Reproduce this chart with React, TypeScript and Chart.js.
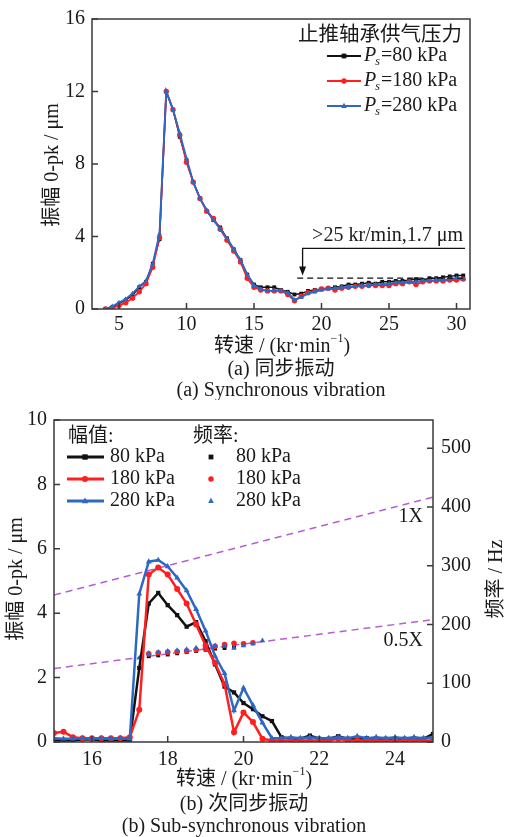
import React, { useEffect, useRef } from 'react';
import { Chart, registerables } from 'chart.js';

Chart.register(...registerables);

const FONT = "'Liberation Serif', 'Noto Sans CJK SC', serif";
const TXT = '#1a1a1a';
const AXIS = '#3a3a3a';
const BLACK = '#111111';
const RED = '#ff1f1f';
const BLUE = '#2c68c4';
const PURPLE = '#b65fd0';

// ---------- Panel (a): synchronous vibration ----------
const speedA = [4, 4.5, 5, 5.5, 6, 6.5, 7, 7.5, 8, 8.5, 9, 9.5, 10, 10.5, 11, 11.5, 12, 12.5, 13, 13.5, 14, 14.5, 15, 15.5, 16, 16.5, 17, 17.5, 18, 18.5, 19, 19.5, 20, 20.5, 21, 21.5, 22, 22.5, 23, 23.5, 24, 24.5, 25, 25.5, 26, 26.5, 27, 27.5, 28, 28.5, 29, 29.5, 30, 30.5];
const amp80A = [0, 0.1, 0.3, 0.5, 0.75, 1.2, 1.5, 2.5, 3.85, 12.0, 11.0, 9.5, 8.2, 7.0, 6.1, 5.4, 4.9, 4.5, 3.9, 3.3, 2.7, 1.9, 1.35, 1.2, 1.2, 1.2, 1.05, 0.95, 0.8, 0.85, 1.0, 1.05, 1.1, 1.15, 1.2, 1.25, 1.35, 1.35, 1.4, 1.45, 1.4, 1.5, 1.5, 1.55, 1.55, 1.6, 1.65, 1.6, 1.7, 1.7, 1.75, 1.8, 1.85, 1.85];
const amp180A = [0, 0.05, 0.2, 0.35, 0.6, 0.95, 1.4, 2.3, 3.95, 12.0, 11.0, 9.6, 8.1, 7.0, 6.1, 5.4, 5.0, 4.4, 3.8, 3.2, 2.6, 1.7, 1.2, 1.05, 1.0, 1.0, 1.0, 0.8, 0.45, 0.7, 0.9, 1.0, 1.1, 1.15, 1.05, 1.15, 1.2, 1.25, 1.25, 1.3, 1.3, 1.3, 1.3, 1.4, 1.4, 1.5, 1.35, 1.5, 1.55, 1.55, 1.55, 1.6, 1.6, 1.65];
const amp280A = [0, 0.15, 0.35, 0.55, 0.85, 1.25, 1.55, 2.5, 4.15, 12.0, 11.0, 9.7, 8.3, 7.0, 6.1, 5.45, 4.9, 4.4, 3.9, 3.3, 2.7, 1.9, 1.3, 1.1, 1.0, 1.0, 1.0, 0.9, 0.5, 0.65, 0.85, 0.95, 1.05, 1.1, 1.15, 1.2, 1.2, 1.25, 1.3, 1.3, 1.35, 1.35, 1.4, 1.45, 1.45, 1.5, 1.5, 1.55, 1.55, 1.6, 1.6, 1.65, 1.7, 1.65];
const xTicksA = [5, 10, 15, 20, 25, 30];
const yTicksA = [0, 4, 8, 12, 16];
const refLineX = [18.2, 30.6];
const refLineY = [1.7, 1.7];
const legendA = ['80 kPa', '180 kPa', '280 kPa'];

// ---------- Panel (b): sub-synchronous vibration ----------
const speedB = [15, 15.25, 15.5, 15.75, 16, 16.25, 16.5, 16.75, 17, 17.25, 17.5, 17.75, 18, 18.25, 18.5, 18.75, 19, 19.25, 19.5, 19.75, 20, 20.25, 20.5, 20.75, 21, 21.25, 21.5, 21.75, 22, 22.25, 22.5, 22.75, 23, 23.25, 23.5, 23.75, 24, 24.25, 24.5, 24.75, 25];
const amp80B = [0.05, 0.05, 0.05, 0.08, 0.08, 0.05, 0.05, 0.05, 0.05, 2.3, 4.3, 4.63, 4.25, 3.94, 3.58, 3.72, 3.13, 2.41, 1.72, 1.54, 1.21, 1.02, 0.8, 0.65, 0.15, 0.1, 0.1, 0.2, 0.1, 0.1, 0.18, 0.1, 0.1, 0.12, 0.1, 0.1, 0.1, 0.1, 0.12, 0.1, 0.25];
const amp180B = [0.28, 0.32, 0.15, 0.12, 0.12, 0.12, 0.12, 0.12, 0.15, 1.0, 5.2, 5.42, 5.2, 4.75, 4.3, 3.65, 3.0, 2.45, 1.8, 0.3, 0.92, 0.62, 0.1, 0.05, 0.05, 0.05, 0.05, 0.05, 0.05, 0.05, 0.1, 0.05, 0.05, 0.05, 0.05, 0.05, 0.05, 0.05, 0.05, 0.05, 0.05];
const amp280B = [0.12, 0.1, 0.1, 0.12, 0.1, 0.12, 0.1, 0.12, 0.1, 4.6, 5.6, 5.65, 5.45, 5.1, 4.7, 4.12, 3.45, 2.67, 2.13, 0.98, 1.68, 1.14, 0.6, 0.12, 0.12, 0.15, 0.12, 0.15, 0.12, 0.12, 0.15, 0.12, 0.18, 0.12, 0.15, 0.12, 0.15, 0.12, 0.15, 0.12, 0.15];
const freqX80 = [17.5, 17.75, 18, 18.25, 18.5, 18.75, 19, 19.25, 19.5, 19.75];
const freq80 = [146, 147.5, 149, 151, 153, 155, 157, 159, 160, 161];
const freqX180 = [17.5, 17.75, 18, 18.25, 18.5, 18.75, 19, 19.25, 19.5, 19.75, 20, 20.25];
const freq180 = [150, 152, 153, 154, 155, 157, 159, 163, 166, 168, 167, 169];
const freqX280 = [17.25, 17.5, 17.75, 18, 18.25, 18.5, 18.75, 19, 19.25, 19.5, 19.75, 20, 20.25, 20.5];
const freq280 = [143, 151, 153, 154.5, 156, 157.5, 160, 161.5, 164, 163, 160, 164, 167.5, 172.5];
const orderX = [15, 25];
const oneX = [250, 416.7];
const halfX = [125, 208.3];
const xTicksB = [16, 18, 20, 22, 24];
const yTicksB = [0, 2, 4, 6, 8, 10];
const y1TicksB = [0, 100, 200, 300, 400, 500];

const pts = (xs: number[], ys: number[]) => xs.map((x, i) => ({ x, y: ys[i] }));
const tickFont = { family: FONT, size: 20 };

function marker(ctx: CanvasRenderingContext2D, style: string, x: number, y: number, r: number, color: string) {
  ctx.save();
  ctx.fillStyle = color;
  ctx.beginPath();
  if (style === 'rect') ctx.rect(x - r * 0.75, y - r * 0.75, r * 1.5, r * 1.5);
  else if (style === 'circle') ctx.arc(x, y, r * 0.85, 0, Math.PI * 2);
  else {
    ctx.moveTo(x, y - r);
    ctx.lineTo(x + r * 0.9, y + r * 0.6);
    ctx.lineTo(x - r * 0.9, y + r * 0.6);
    ctx.closePath();
  }
  ctx.fill();
  ctx.restore();
}

function text(ctx: CanvasRenderingContext2D, s: string, x: number, y: number, align: CanvasTextAlign = 'left', size = 20, rot = 0, style = '') {
  ctx.save();
  ctx.font = `${style} ${size}px ${FONT}`;
  ctx.fillStyle = TXT;
  ctx.textAlign = align;
  ctx.textBaseline = 'middle';
  ctx.translate(x, y);
  if (rot) ctx.rotate(rot);
  ctx.fillText(s, 0, 0);
  ctx.restore();
}

function speedTitle(ctx: CanvasRenderingContext2D, cx: number, cy: number) {
  ctx.save();
  ctx.fillStyle = TXT;
  ctx.textBaseline = 'middle';
  ctx.textAlign = 'left';
  const a = '转速 / (kr·min';
  const sup = '−1';
  const b = ')';
  ctx.font = `20px ${FONT}`;
  const wa = ctx.measureText(a).width;
  const wb = ctx.measureText(b).width;
  ctx.font = `12px ${FONT}`;
  const ws = ctx.measureText(sup).width;
  let x = cx - (wa + ws + wb) / 2;
  ctx.font = `20px ${FONT}`;
  ctx.fillText(a, x, cy);
  x += wa;
  ctx.font = `12px ${FONT}`;
  ctx.fillText(sup, x, cy - 8);
  x += ws;
  ctx.font = `20px ${FONT}`;
  ctx.fillText(b, x, cy);
  ctx.restore();
}

function frameAndTicks(chart: any, axes: { id: string; side: string }[]) {
  const ctx = chart.ctx as CanvasRenderingContext2D;
  const ca = chart.chartArea;
  ctx.save();
  ctx.strokeStyle = AXIS;
  ctx.lineWidth = 1.5;
  ctx.strokeRect(ca.left, ca.top, ca.right - ca.left, ca.bottom - ca.top);
  const L = 6;
  ctx.beginPath();
  for (const ax of axes) {
    const sc = chart.scales[ax.id];
    for (const t of sc.ticks) {
      const p = sc.getPixelForValue(t.value);
      if (ax.side === 'bottom') { ctx.moveTo(p, ca.bottom); ctx.lineTo(p, ca.bottom - L); }
      if (ax.side === 'left') { ctx.moveTo(ca.left, p); ctx.lineTo(ca.left + L, p); }
      if (ax.side === 'right') { ctx.moveTo(ca.right, p); ctx.lineTo(ca.right - L, p); }
    }
  }
  ctx.stroke();
  ctx.restore();
}

const ticksFrom = (arr: number[]) => (s: any) => { s.ticks = arr.map((v) => ({ value: v })); };

function lineDs(label: string, xs: number[], ys: number[], color: string, style: string, r: number, bw: number, order: number, yAxisID = 'y') {
  return {
    label, data: pts(xs, ys), borderColor: color, backgroundColor: color, pointStyle: style,
    pointRadius: r, pointBorderWidth: 0, borderWidth: bw, order, tension: 0, yAxisID,
  };
}

function scatterDs(label: string, xs: number[], ys: number[], color: string, style: string, r: number, order: number) {
  return {
    label, data: pts(xs, ys), borderColor: color, backgroundColor: color, pointStyle: style,
    pointRadius: r, pointBorderWidth: 0, showLine: false, order, yAxisID: 'y1',
  };
}

function configA(): any {
  const deco = {
    id: 'decoA',
    afterDraw(chart: any) {
      const ctx = chart.ctx as CanvasRenderingContext2D;
      frameAndTicks(chart, [{ id: 'x', side: 'bottom' }, { id: 'y', side: 'left' }]);
      const xs = chart.scales.x;
      const ys = chart.scales.y;
      // annotation arrow
      const ax = xs.getPixelForValue(18.6);
      const ay = ys.getPixelForValue(3.35);
      const tip = ys.getPixelForValue(1.85);
      ctx.save();
      ctx.strokeStyle = '#111';
      ctx.fillStyle = '#111';
      ctx.lineWidth = 1.3;
      ctx.beginPath();
      ctx.moveTo(chart.chartArea.right - 5, ay);
      ctx.lineTo(ax, ay);
      ctx.lineTo(ax, tip - 7);
      ctx.stroke();
      ctx.beginPath();
      ctx.moveTo(ax, tip);
      ctx.lineTo(ax - 3.5, tip - 9);
      ctx.lineTo(ax + 3.5, tip - 9);
      ctx.closePath();
      ctx.fill();
      ctx.restore();
      text(ctx, '>25 kr/min,1.7 μm', 463, ys.getPixelForValue(4.05), 'right');
      // legend
      text(ctx, '止推轴承供气压力', 462, 36, 'right', 20.5);
      const cols = [BLACK, RED, BLUE];
      const styles = ['rect', 'circle', 'triangle'];
      const rows = [56, 81, 106];
      rows.forEach((y, i) => {
        ctx.save();
        ctx.strokeStyle = cols[i];
        ctx.lineWidth = 1.8;
        ctx.beginPath();
        ctx.moveTo(327, y);
        ctx.lineTo(361, y);
        ctx.stroke();
        ctx.restore();
        marker(ctx, styles[i], 344, y, 3.2, cols[i]);
        ctx.save();
        ctx.fillStyle = TXT;
        ctx.textBaseline = 'middle';
        let x = 364;
        ctx.font = `italic 20px ${FONT}`;
        ctx.fillText('P', x, y);
        x += ctx.measureText('P').width;
        ctx.font = `italic 12px ${FONT}`;
        ctx.fillText('s', x - 1, y + 6);
        x += ctx.measureText('s').width;
        ctx.font = `20px ${FONT}`;
        ctx.fillText('=' + legendA[i], x, y);
        ctx.restore();
      });
      // titles and captions
      text(ctx, '振幅 0-pk / μm', 53, 165, 'center', 20, -Math.PI / 2);
      speedTitle(ctx, 282, 347);
      text(ctx, '(a) 同步振动', 281, 370, 'center');
      text(ctx, '(a) Synchronous vibration', 281, 391, 'center');
    },
  };
  return {
    type: 'line',
    data: {
      datasets: [
        { label: 'ref', data: pts(refLineX, refLineY), borderColor: '#111', borderWidth: 1.3, borderDash: [6, 4], pointRadius: 0, order: 0 },
        lineDs('280', speedA, amp280A, BLUE, 'triangle', 2.9, 1.9, 1),
        lineDs('180', speedA, amp180A, RED, 'circle', 2.7, 1.8, 2),
        lineDs('80', speedA, amp80A, BLACK, 'rect', 2.7, 1.5, 3),
      ],
    },
    options: {
      responsive: false,
      animation: false,
      events: [],
      layout: { padding: { top: 17, right: 37, left: 0, bottom: 0 } },
      plugins: { legend: { display: false }, tooltip: { enabled: false } },
      scales: {
        x: {
          type: 'linear', min: 3, max: 31,
          afterBuildTicks: ticksFrom(xTicksA),
          afterFit: (s: any) => { s.height = 91; },
          grid: { display: false, drawTicks: false }, border: { display: false },
          ticks: { font: tickFont, color: TXT, padding: 4, maxRotation: 0, autoSkip: false },
        },
        y: {
          min: 0, max: 16,
          afterBuildTicks: ticksFrom(yTicksA),
          afterFit: (s: any) => { s.width = 92; },
          grid: { display: false, drawTicks: false }, border: { display: false },
          ticks: { font: tickFont, color: TXT, padding: 7 },
        },
      },
    },
    plugins: [deco],
  };
}

function configB(): any {
  const deco = {
    id: 'decoB',
    afterDraw(chart: any) {
      const ctx = chart.ctx as CanvasRenderingContext2D;
      frameAndTicks(chart, [{ id: 'x', side: 'bottom' }, { id: 'y', side: 'left' }, { id: 'y1', side: 'right' }]);
      const cols = [BLACK, RED, BLUE];
      const styles = ['rect', 'circle', 'triangle'];
      const rows = [57, 79, 101];
      text(ctx, '幅值:', 68, 37, 'left');
      text(ctx, '频率:', 193, 37, 'left');
      rows.forEach((y, i) => {
        ctx.save();
        ctx.strokeStyle = cols[i];
        ctx.lineWidth = 2.8;
        ctx.beginPath();
        ctx.moveTo(67, y);
        ctx.lineTo(104, y);
        ctx.stroke();
        ctx.restore();
        marker(ctx, styles[i], 85, y, 3.6, cols[i]);
        text(ctx, legendA[i], 110, y, 'left');
        marker(ctx, styles[i], 211, y, 3.2, cols[i]);
        text(ctx, legendA[i], 236, y, 'left');
      });
      text(ctx, '1X', 423, 117, 'right');
      text(ctx, '0.5X', 423, 241, 'right');
      text(ctx, '振幅 0-pk / μm', 17, 179, 'center', 20, -Math.PI / 2);
      text(ctx, '频率 / Hz', 497, 179, 'center', 20, -Math.PI / 2);
      speedTitle(ctx, 244, 380);
      text(ctx, '(b) 次同步振动', 244, 405, 'center');
      text(ctx, '(b) Sub-synchronous vibration', 244, 427, 'center');
    },
  };
  return {
    type: 'line',
    data: {
      datasets: [
        lineDs('280', speedB, amp280B, BLUE, 'triangle', 3.4, 2.5, 1),
        lineDs('180', speedB, amp180B, RED, 'circle', 3.0, 2.5, 2),
        lineDs('80', speedB, amp80B, BLACK, 'rect', 3.0, 2.5, 3),
        scatterDs('f280', freqX280, freq280, BLUE, 'triangle', 3.2, 4),
        scatterDs('f180', freqX180, freq180, RED, 'circle', 2.8, 5),
        scatterDs('f80', freqX80, freq80, BLACK, 'rect', 2.8, 6),
        { label: '1X', data: pts(orderX, oneX), yAxisID: 'y1', borderColor: PURPLE, borderWidth: 1.5, borderDash: [7, 5], pointRadius: 0, order: 7 },
        { label: '0.5X', data: pts(orderX, halfX), yAxisID: 'y1', borderColor: PURPLE, borderWidth: 1.5, borderDash: [7, 5], pointRadius: 0, order: 8 },
      ],
    },
    options: {
      responsive: false,
      animation: false,
      events: [],
      layout: { padding: { top: 15, right: 0, left: 0, bottom: 0 } },
      plugins: { legend: { display: false }, tooltip: { enabled: false } },
      scales: {
        x: {
          type: 'linear', min: 15, max: 25,
          afterBuildTicks: ticksFrom(xTicksB),
          afterFit: (s: any) => { s.height = 95; },
          grid: { display: false, drawTicks: false }, border: { display: false },
          ticks: { font: tickFont, color: TXT, padding: 6, maxRotation: 0, autoSkip: false },
        },
        y: {
          position: 'left', min: 0, max: 10,
          afterBuildTicks: ticksFrom(yTicksB),
          afterFit: (s: any) => { s.width = 54; },
          grid: { display: false, drawTicks: false }, border: { display: false },
          ticks: { font: tickFont, color: TXT, padding: 7 },
        },
        y1: {
          position: 'right', min: 0, max: 548,
          afterBuildTicks: ticksFrom(y1TicksB),
          afterFit: (s: any) => { s.width = 74; },
          grid: { display: false, drawTicks: false }, border: { display: false },
          ticks: { font: tickFont, color: TXT, padding: 8 },
        },
      },
    },
    plugins: [deco],
  };
}

export default function App() {
  const refA = useRef<HTMLCanvasElement>(null);
  const refB = useRef<HTMLCanvasElement>(null);
  useEffect(() => {
    const a = new Chart(refA.current as HTMLCanvasElement, configA());
    const b = new Chart(refB.current as HTMLCanvasElement, configB());
    return () => { a.destroy(); b.destroy(); };
  }, []);
  return (
    <div style={{ position: 'absolute', left: 0, top: 0, width: 507, height: 837, background: '#ffffff' }}>
      <canvas ref={refA} width={507} height={400} style={{ position: 'absolute', left: 0, top: 0, width: 507, height: 400 }} />
      <canvas ref={refB} width={507} height={437} style={{ position: 'absolute', left: 0, top: 400, width: 507, height: 437 }} />
    </div>
  );
}
